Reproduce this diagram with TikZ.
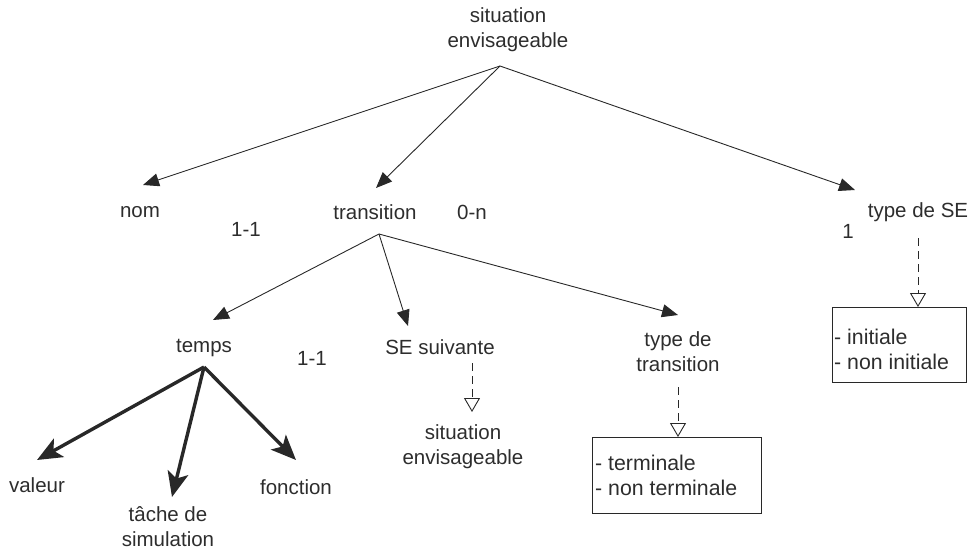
\documentclass[tikz,border=0pt]{standalone}
\usepackage{fontspec}
\setmainfont{Liberation Sans}
\usetikzlibrary{arrows.meta}
\definecolor{txtc}{RGB}{45,45,45}
\definecolor{linec}{RGB}{40,40,40}
\begin{document}
\begin{tikzpicture}[x=1pt,y=-1pt,
  lbl/.style={font=\fontsize{20.5}{25}\selectfont, text=txtc, inner sep=0pt, align=center},
  arr/.style={draw=linec, line width=0.9pt, -{Triangle[length=16pt,width=13pt]}},
  bigarr/.style={draw=linec, line width=3.4pt, -{Stealth[length=25pt,width=21pt,inset=6pt]}},
  dasharr/.style={draw=linec, line width=0.9pt, dash pattern=on 8pt off 5pt, -{Triangle[open,length=14pt,width=16pt,line width=0.9pt]}},
  boxframe/.style={draw=linec, line width=1pt, inner sep=0pt, anchor=north west},
  boxtext/.style={font=\fontsize{21.3}{25}\selectfont, text=txtc, align=left, inner sep=0pt, anchor=west}
]
\useasboundingbox (0,0) rectangle (972,552);

% labels
\node[lbl] (root) at (508,30) {situation\\envisageable};
\node[lbl] (nom) at (140,212) {nom};
\node[lbl] (cardA) at (246,229) {1-1};
\node[lbl] (trans) at (375,212) {transition};
\node[lbl] (cardB) at (472,212) {0-n};
\node[lbl] (typese) at (918,212) {type de SE};
\node[lbl] (cardC) at (848,231) {1};
\node[lbl] (temps) at (204,348) {temps};
\node[lbl] (cardD) at (312,358) {1-1};
\node[lbl] (sesuiv) at (440,347) {SE suivante};
\node[lbl] (typetr) at (678,352) {type de\\transition};
\node[lbl] (valeur) at (37,485) {valeur};
\node[lbl] (tache) at (168,527) {tâche de\\simulation};
\node[lbl] (fonction) at (296,487) {fonction};
\node[lbl] (sitenv) at (463,447) {situation\\envisageable};

% boxes
\node[boxframe, minimum width=169pt, minimum height=76pt] (boxtr) at (592,437) {};
\node[boxtext] (boxtrtxt) at (595,475.5) {- terminale\\- non terminale};
\node[boxframe, minimum width=134pt, minimum height=75pt] (boxse) at (832,307) {};
\node[boxtext] (boxsetxt) at (834,349.5) {- initiale\\- non initiale};

% connector end points
\coordinate (rootF) at (500,66);
\coordinate (nomT) at (143,185);
\coordinate (transT) at (376,188);
\coordinate (typeseT) at (855,190);
\coordinate (transF) at (379,234);
\coordinate (tempsT) at (213,320);
\coordinate (sesuivT) at (408,326);
\coordinate (typetrT) at (678,315);
\coordinate (tempsF) at (204,367);
\coordinate (valeurT) at (37,460);
\coordinate (tacheT) at (172,497);
\coordinate (fonctionT) at (296,460);
\coordinate (sesuivF) at (472,363);
\coordinate (sitenvT) at (472,412);
\coordinate (typetrF) at (678,387);
\coordinate (boxtrT) at (678,437);
\coordinate (typeseF) at (918,238);
\coordinate (boxseT) at (918,307);

% connectors
\draw[arr] (rootF) -- (nomT);
\draw[arr] (rootF) -- (transT);
\draw[arr] (rootF) -- (typeseT);
\draw[arr] (transF) -- (tempsT);
\draw[arr] (transF) -- (sesuivT);
\draw[arr] (transF) -- (typetrT);
\draw[bigarr] (tempsF) -- (valeurT);
\draw[bigarr] (tempsF) -- (tacheT);
\draw[bigarr] (tempsF) -- (fonctionT);
\draw[dasharr] (sesuivF) -- (sitenvT);
\draw[dasharr] (typetrF) -- (boxtrT);
\draw[dasharr] (typeseF) -- (boxseT);
\end{tikzpicture}
\end{document}
